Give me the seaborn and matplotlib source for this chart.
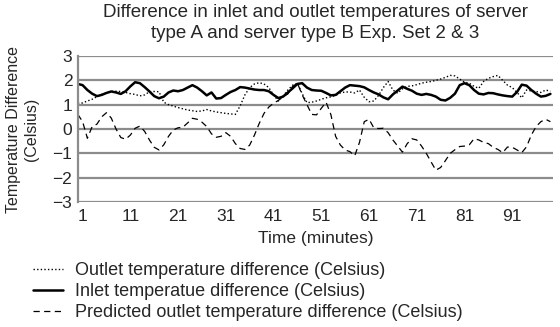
import numpy as np
import pandas as pd
import matplotlib
matplotlib.use("Agg")
import matplotlib.pyplot as plt
import seaborn as sns

# minutes 0..99
minutes = list(range(100))

# outlet temperature difference (dotted)
outlet = [1.06, 1.07, 1.15, 1.22, 1.33, 1.42, 1.48, 1.54, 1.55, 1.54,
          1.50, 1.45, 1.42, 1.36, 1.40, 1.53, 1.54, 1.53, 1.10, 1.00,
          0.94, 0.88, 0.83, 0.78, 0.75, 0.72, 0.74, 0.80, 0.74, 0.70,
          0.67, 0.64, 0.62, 0.60, 0.95, 1.40, 1.70, 1.85, 1.90, 1.85,
          1.70, 1.40, 1.15, 1.35, 1.60, 1.80, 1.88, 1.45, 1.08, 1.10,
          1.15, 1.22, 1.28, 1.32, 1.38, 1.48, 1.52, 1.52, 1.48, 1.60,
          1.30, 1.12, 1.15, 1.38, 1.70, 1.95, 1.60, 1.47, 1.65, 1.75,
          1.77, 1.82, 1.88, 1.92, 1.95, 2.00, 2.05, 2.12, 2.20, 2.18,
          2.05, 1.92, 1.88, 1.75, 1.67, 1.95, 2.08, 2.15, 2.20, 2.00,
          1.80, 1.70, 1.50, 1.28, 1.60, 1.56, 1.54, 1.50, 1.60, 1.55]

# inlet temperature difference (solid)
inlet = [1.85, 1.80, 1.60, 1.45, 1.35, 1.40, 1.48, 1.54, 1.50, 1.44,
         1.55, 1.75, 1.92, 1.88, 1.72, 1.54, 1.35, 1.26, 1.33, 1.50,
         1.58, 1.55, 1.60, 1.70, 1.80, 1.70, 1.55, 1.38, 1.50, 1.25,
         1.27, 1.40, 1.52, 1.60, 1.72, 1.70, 1.66, 1.62, 1.60, 1.60,
         1.55, 1.40, 1.27, 1.33, 1.50, 1.67, 1.85, 1.88, 1.70, 1.60,
         1.58, 1.57, 1.48, 1.38, 1.40, 1.55, 1.70, 1.80, 1.78, 1.76,
         1.71, 1.60, 1.50, 1.42, 1.30, 1.22, 1.42, 1.58, 1.74, 1.65,
         1.57, 1.45, 1.40, 1.44, 1.40, 1.33, 1.20, 1.17, 1.28, 1.45,
         1.80, 1.88, 1.80, 1.60, 1.45, 1.42, 1.48, 1.47, 1.42, 1.38,
         1.35, 1.33, 1.52, 1.82, 1.78, 1.60, 1.45, 1.33, 1.36, 1.44]

# predicted outlet temperature difference (dashed)
predicted = [0.60, 0.30, -0.38, 0.10, 0.20, 0.50, 0.67, 0.45, 0.00, -0.35,
             -0.42, -0.25, 0.03, 0.12, -0.10, -0.45, -0.75, -0.86, -0.65, -0.30,
             -0.04, 0.05, 0.07, 0.25, 0.44, 0.40, 0.28, 0.10, -0.20, -0.34,
             -0.30, -0.15, -0.30, -0.60, -0.80, -0.84, -0.66, -0.25, 0.23, 0.64,
             0.90, 1.06, 1.17, 1.33, 1.44, 1.75, 1.88, 1.40, 1.00, 0.60,
             0.58, 0.85, 1.10, 0.60, -0.30, -0.66, -0.86, -0.93, -1.10, -0.55,
             0.30, 0.40, 0.05, 0.02, 0.03, -0.15, -0.45, -0.70, -0.95, -0.60,
             -0.40, -0.45, -0.70, -1.00, -1.35, -1.69, -1.58, -1.30, -1.00, -0.85,
             -0.72, -0.70, -0.65, -0.40, -0.45, -0.55, -0.60, -0.75, -0.84, -0.97,
             -0.74, -0.75, -0.86, -0.97, -0.73, -0.25, 0.10, 0.30, 0.40, 0.30]

tick_pos = [1, 11, 21, 31, 41, 51, 61, 71, 81, 91]
tick_labels = ["1", "11", "21", "31", "41", "51", "61", "71", "81", "91"]

labels = ["Outlet temperature difference (Celsius)",
          "Inlet temperatue difference (Celsius)",
          "Predicted outlet temperature difference (Celsius)"]

df = pd.DataFrame({"minute": minutes, labels[0]: outlet,
                   labels[1]: inlet, labels[2]: predicted})

sns.set_style("white")
plt.rcParams["font.family"] = ["Liberation Sans", "DejaVu Sans"]

fig = plt.figure(figsize=(5.6, 3.27), dpi=100)
ax = fig.add_axes([0.139, 0.382, 0.849, 0.447])

sns.lineplot(data=df, x="minute", y=labels[0], ax=ax, color="black",
             lw=1.0, linestyle=(0, (1, 1.6)), label=labels[0])
sns.lineplot(data=df, x="minute", y=labels[1], ax=ax, color="black",
             lw=1.8, label=labels[1])
sns.lineplot(data=df, x="minute", y=labels[2], ax=ax, color="black",
             lw=0.9, linestyle=(0, (5, 3.5)), label=labels[2])

ax.set_ylim(-3, 3)
ax.set_xlim(0, 99.6)
ax.set_yticks(range(-3, 4))
ax.set_xticks(tick_pos)
ax.set_xticklabels(tick_labels)
ax.yaxis.grid(True, color="#8c8c8c", lw=1.6)
ax.set_axisbelow(True)
for s in ["top", "right", "bottom"]:
    ax.spines[s].set_visible(False)
ax.spines["left"].set_color("#8c8c8c")
ax.spines["left"].set_linewidth(1.6)
ax.tick_params(axis="x", length=0, labelsize=12.5, pad=5)
ax.tick_params(axis="y", length=0, labelsize=12.5, pad=4)

ax.set_title("Difference in inlet and outlet temperatures of server\n"
             "type A and server type B Exp. Set 2 & 3", fontsize=13.5,
             pad=13, linespacing=1.3)
ax.set_xlabel("Time (minutes)", fontsize=12.5, labelpad=5)
ax.set_ylabel("Temperature Difference\n(Celsius)", fontsize=11.5, labelpad=10)

ax.legend(loc="upper left", bbox_to_anchor=(0.059, 0.198),
          bbox_transform=fig.transFigure, frameon=False, fontsize=13,
          handlelength=1.65, handletextpad=0.67, labelspacing=0.22,
          borderpad=0, borderaxespad=0)

fig.savefig("out.png", dpi=100)
